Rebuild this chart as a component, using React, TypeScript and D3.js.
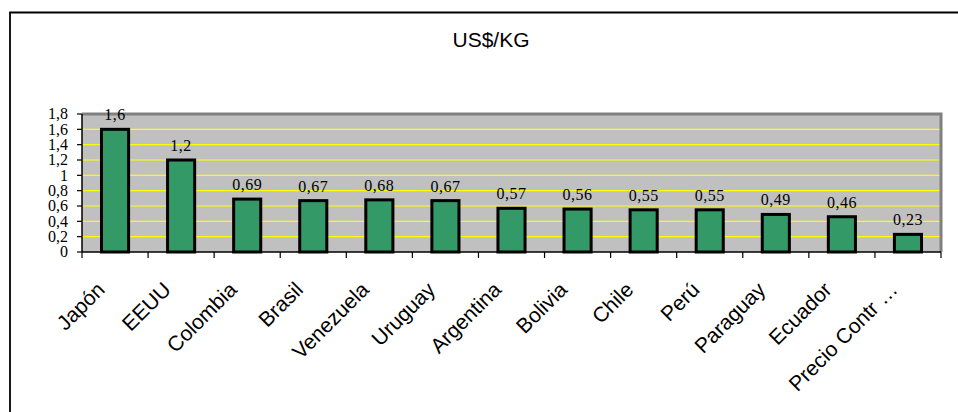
import React from 'react';
import * as d3 from 'd3';

const width = 958;
const height = 412;
const margin = {top: 114, right: 17, bottom: 160, left: 82};

const countries = ['Japón', 'EEUU', 'Colombia', 'Brasil', 'Venezuela', 'Uruguay', 'Argentina', 'Bolivia', 'Chile', 'Perú', 'Paraguay', 'Ecuador', 'Precio Contr …'];
const prices = [1.6, 1.2, 0.69, 0.67, 0.68, 0.67, 0.57, 0.56, 0.55, 0.55, 0.49, 0.46, 0.23];
const yTicks = [0, 0.2, 0.4, 0.6, 0.8, 1, 1.2, 1.4, 1.6, 1.8];

const green = '#339966';
const wall = '#c0c0c0';
const wallEdge = '#808080';
const grid = '#ffff00';

const fmt = (v: number) => String(v).replace('.', ',');

export default function App() {
  const x = d3.scaleBand<string>()
    .domain(countries)
    .range([margin.left, width - margin.right])
    .paddingInner(0.59)
    .paddingOuter(0.295);
  const y = d3.scaleLinear().domain([0, 1.8]).range([height - margin.bottom, margin.top]);

  const x0 = margin.left;
  const x1 = width - margin.right;
  const yBase = y(0);
  const step = x.step();
  // band edges for the tick marks under the axis
  const edges = countries.map((c, i) => x0 + i * step).concat([x1]);

  return (
    <svg width={width} height={height} style={{position: 'absolute', left: 0, top: 0, background: '#fff'}}>
      {/* outer chart frame */}
      <path d={`M10,${height + 5}V12.5H${width + 5}`} fill='none' stroke='#000' strokeWidth='1.8' />

      <text x={491} y={47} textAnchor='middle' fontFamily='Liberation Sans, Arial, sans-serif' fontSize='21'>US$/KG</text>

      {/* plot wall */}
      <rect x={x0} y={y(1.8)} width={x1 - x0} height={yBase - y(1.8)} fill={wall} />
      {yTicks.filter(t => t > 0 && t < 1.8).map(t => (
        <line key={t} x1={x0} x2={x1} y1={y(t)} y2={y(t)} stroke={grid} strokeWidth='1.2' />
      ))}
      <path d={`M${x0},${y(1.8)}H${x1}V${yBase}`} fill='none' stroke={wallEdge} strokeWidth='3' />

      {countries.map((c, i) => (
        <rect key={c} x={x(c)} y={y(prices[i])} width={x.bandwidth()} height={yBase - y(prices[i])}
          fill={green} stroke='#000' strokeWidth='3' />
      ))}

      {/* axes */}
      <line x1={x0} x2={x0} y1={y(1.8)} y2={yBase} stroke='#000' strokeWidth='1.5' />
      <line x1={x0} x2={x1} y1={yBase} y2={yBase} stroke='#000' strokeWidth='1.5' />
      {yTicks.map(t => (
        <g key={t}>
          <line x1={x0 - 5} x2={x0} y1={y(t)} y2={y(t)} stroke='#000' strokeWidth='1.2' />
          <text x={x0 - 14} y={y(t)} dy='0.33em' textAnchor='end' fontFamily='Liberation Serif, Times New Roman, serif'
            fontSize='16'>{fmt(t)}</text>
        </g>
      ))}
      {edges.map((e, i) => (
        <line key={i} x1={e} x2={e} y1={yBase} y2={yBase + 6} stroke='#000' strokeWidth='1.2' />
      ))}

      {/* value labels */}
      {countries.map((c, i) => (
        <text key={c} x={(x(c) as number) + x.bandwidth() / 2} y={y(prices[i]) - 9} textAnchor='middle'
          fontFamily='Liberation Serif, Times New Roman, serif' fontSize='16' letterSpacing='0.5'>{fmt(prices[i])}</text>
      ))}

      {/* category labels */}
      {countries.map(c => {
        const cx = (x(c) as number) + x.bandwidth() / 2 - 9;
        const cy = yBase + 39;
        return (
          <text key={c} x={cx} y={cy} transform={`rotate(-45,${cx},${cy})`} textAnchor='end'
            fontFamily='Liberation Sans, Arial, sans-serif' fontSize='21' style={{whiteSpace: 'pre'}}>{c}</text>
        );
      })}
    </svg>
  );
}
